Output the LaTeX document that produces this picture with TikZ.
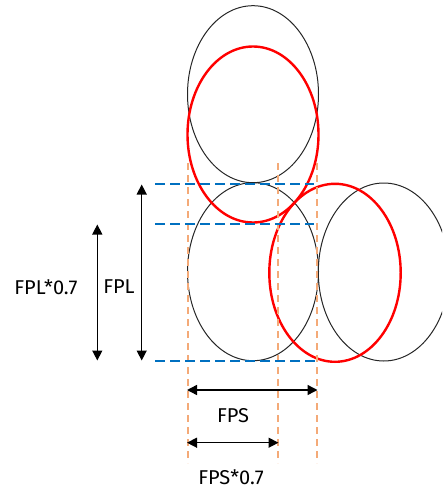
\documentclass[tikz,border=0pt]{standalone}
\usepackage{fontspec}
\setmainfont{Fira Sans}
\usetikzlibrary{arrows.meta}
\definecolor{redc}{RGB}{255,0,0}
\definecolor{bluec}{RGB}{0,112,192}
\definecolor{orangec}{RGB}{244,170,120}
\tikzset{
  blackell/.style={draw=black!85, line width=1pt},
  redell/.style={draw=redc, line width=2.4pt},
  bluedash/.style={draw=bluec, line width=1.3pt, dash pattern=on 10pt off 5pt},
  orangedash/.style={draw=orangec, line width=1.6pt, dash pattern=on 7pt off 5pt},
  dimarrow/.style={draw=black, line width=1.4pt, {Triangle[length=10pt,width=10pt]}-{Triangle[length=10pt,width=10pt]}},
  lbl/.style={font=\fontsize{20}{24}\selectfont, inner sep=0pt}
}
\begin{document}
\begin{tikzpicture}[x=1pt,y=-1pt]
\useasboundingbox (0,0) rectangle (442,492);
\clip (0,0) rectangle (442,492);
% ellipses
\draw[blackell] (253,94.2) ellipse [x radius=65.5, y radius=88.5];
\draw[blackell] (253,271.7) ellipse [x radius=65.5, y radius=89];
\draw[blackell] (383.8,272) ellipse [x radius=65.5, y radius=89];
\draw[redell] (253,134.5) ellipse [x radius=65.5, y radius=88];
\draw[redell] (335,272.8) ellipse [x radius=65.7, y radius=89];
% orange guides
\foreach \x/\n in {188/oa,278/ob,317/oc}{
  \coordinate (\n t) at (\x,163);
  \coordinate (\n b) at (\x,463);
  \draw[orangedash] (\n t) -- (\n b);
}
% blue guides
\coordinate (b1l) at (155,184); \coordinate (b1r) at (314,184);
\coordinate (b2l) at (155,224); \coordinate (b2r) at (314,224);
\coordinate (b3l) at (155,361); \coordinate (b3r) at (319,361);
\draw[bluedash] (b1l) -- (b1r);
\draw[bluedash] (b2l) -- (b2r);
\draw[bluedash] (b3l) -- (b3r);
% dimension arrows
\coordinate (fplt) at (141.7,184.5); \coordinate (fplb) at (141.7,360.5);
\coordinate (fpl7t) at (97.3,224.5); \coordinate (fpl7b) at (97.3,360.5);
\coordinate (fpsl) at (187,390); \coordinate (fpsr) at (317.5,390);
\coordinate (fps7l) at (187,442.7); \coordinate (fps7r) at (278.5,442.7);
\draw[dimarrow] (fplt) -- (fplb);
\draw[dimarrow] (fpl7t) -- (fpl7b);
\draw[dimarrow] (fpsl) -- (fpsr);
\draw[dimarrow] (fps7l) -- (fps7r);
% labels
\node[lbl] (lfpl) at (119,287) {FPL};
\node[lbl] (lfpl7) at (46,287) {FPL*0.7};
\node[lbl] (lfps) at (233,416) {FPS};
\node[lbl] (lfps7) at (231,477) {FPS*0.7};
\end{tikzpicture}
\end{document}
